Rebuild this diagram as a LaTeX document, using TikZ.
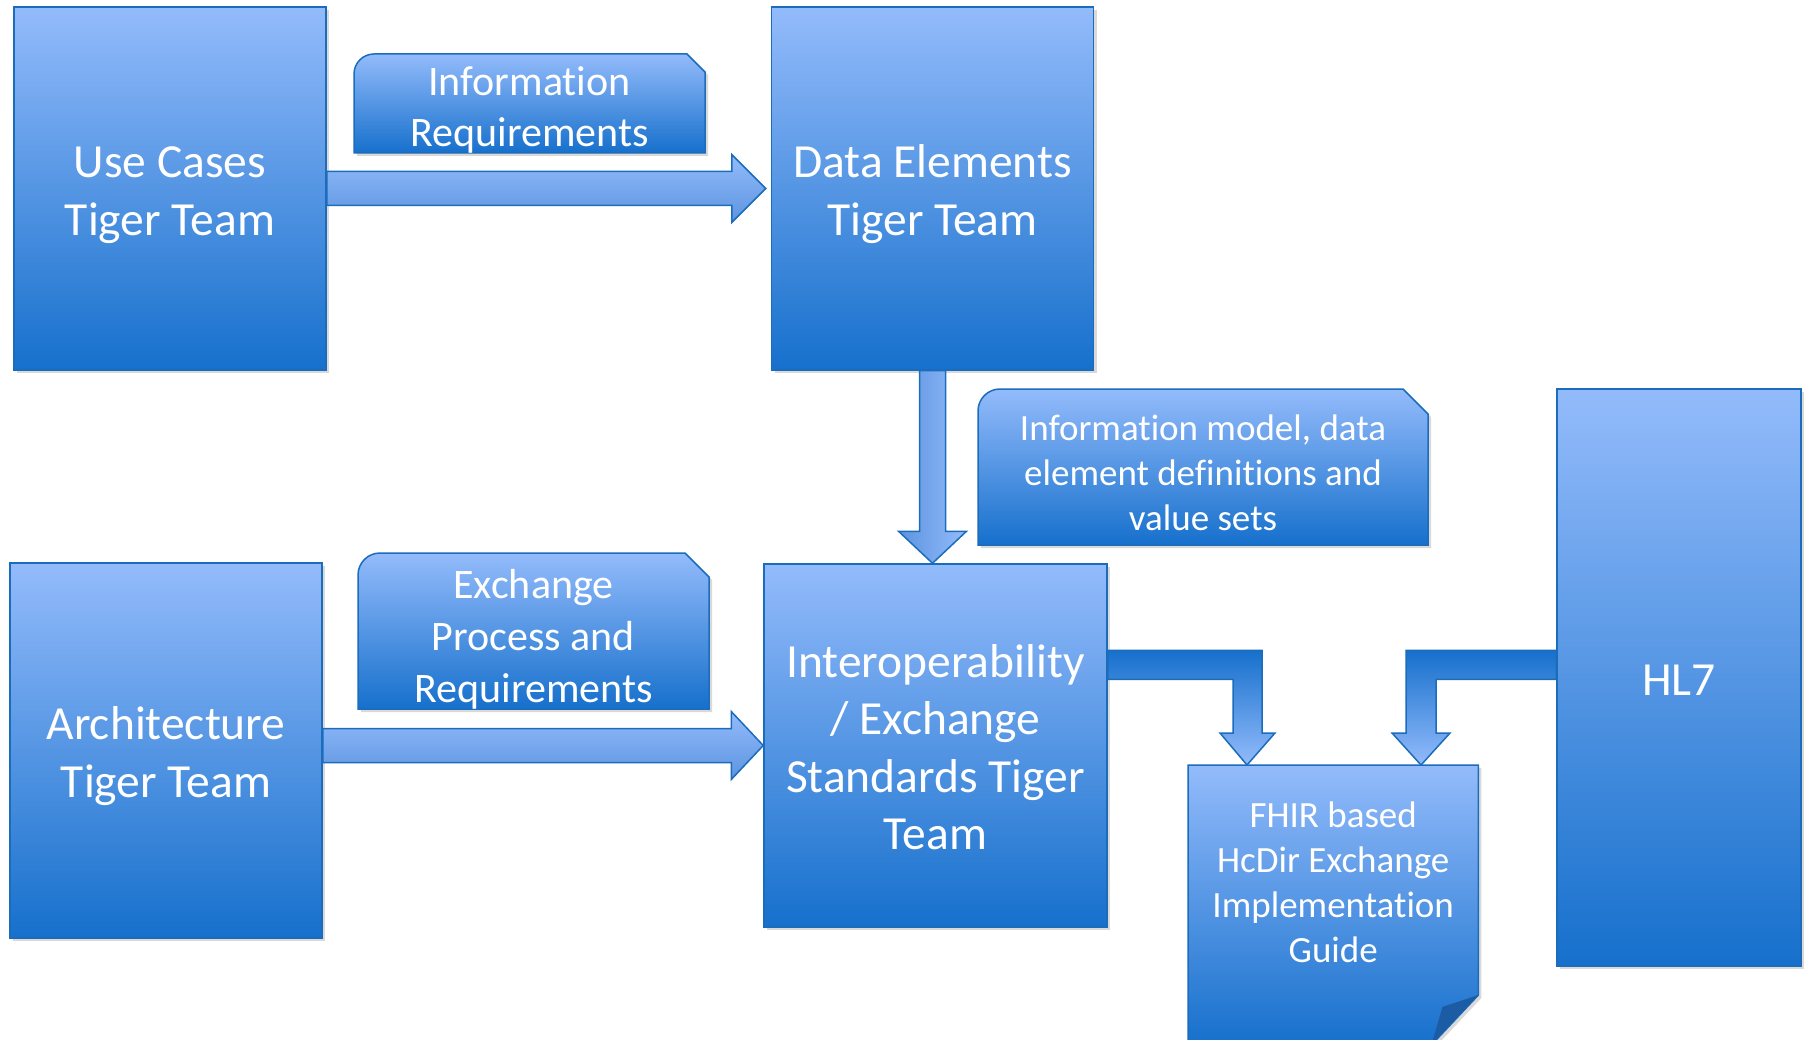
\documentclass[tikz,border=0pt]{standalone}
\usepackage{fontspec}
\setmainfont{Carlito}[Ligatures={NoCommon,NoDiscretionary,NoContextual}]
\usetikzlibrary{positioning, calc, shadows}
\definecolor{boxtop}{RGB}{147,187,251}
\definecolor{boxbot}{RGB}{22,112,204}
\definecolor{boxline}{RGB}{28,108,188}
\definecolor{arrowmid}{RGB}{92,148,224}
\definecolor{foldcol}{RGB}{27,92,165}
\newcommand{\teamtext}[1]{\raisebox{0pt}[\dimexpr\height+13pt\relax]{\begin{tabular}{@{}c@{}}#1\end{tabular}}}
\tikzstyle{Team} = [draw=boxline, line width=1.5pt, top color=boxtop,
bottom color=boxbot, text=white, inner sep=0pt,
font=\fontsize{47.5}{57.5}\selectfont,
drop shadow={opacity=0.3, shadow xshift=3pt, shadow yshift=-3pt}]
\tikzstyle{Note} = [draw=boxline, line width=1.5pt, top color=boxtop,
bottom color=boxbot,
drop shadow={opacity=0.3, shadow xshift=3pt, shadow yshift=-3pt}]
\tikzstyle{NoteText} = [text=white, align=center, inner sep=0pt]
\tikzstyle{HArrow} = [draw=boxline, line width=1.5pt, top color=boxtop,
bottom color=arrowmid]
\tikzstyle{VArrow} = [draw=boxline, line width=1.5pt, left color=arrowmid,
right color=boxtop]
\tikzstyle{ElbowArrow} = [draw=boxline, line width=1.5pt, top color=boxbot,
bottom color=boxtop]

\begin{document}
\begin{tikzpicture}[x=1pt, y=-1pt]
    \clip (0,0) rectangle (1804,1040);

    % teams
    \node [Team, minimum width=312pt, minimum height=363pt] (usecases) at (170,188.5) {\teamtext{Use Cases\\Tiger Team}};
    \node [Team, minimum width=322pt, minimum height=363pt, right=444pt of usecases] (dataelem) {\teamtext{Data Elements\\Tiger Team}};
    \node [Team, minimum width=312pt, minimum height=375pt] (arch) at (166,750.5) {\teamtext{Architecture\\Tiger Team}};
    \node [Team, minimum width=343pt, minimum height=363pt] (interop) at (935.5,745.5) {\teamtext{Interoperability\\/ Exchange\\Standards Tiger\\Team}};
    \node [Team, minimum width=244pt, minimum height=577pt] (hl7) at (1679,677.5) {\teamtext{HL7}};

    % implementation guide (folded page)
    \node [anchor=north west, minimum width=290pt, minimum height=280pt, inner sep=0pt] (fhirdoc) at (1188,765) {};
    \path[Note] (fhirdoc.north west) -- (fhirdoc.north east) -- ($(fhirdoc.north east)+(0,230)$)
        -- ($(fhirdoc.north east)+(-47,280)$) -- (fhirdoc.south west) -- cycle;
    \fill[foldcol] ($(fhirdoc.north east)+(0,230)$) -- ($(fhirdoc.north east)+(-36,242)$)
        -- ($(fhirdoc.north east)+(-47,280)$) -- cycle;
    \node [NoteText, font=\fontsize{37}{45}\selectfont] (fhir) at ($(fhirdoc.north)+(0,117)$) {FHIR based\\HcDir Exchange\\Implementation\\Guide};

    % labels
    \path[Note] (354,153) -- (354,74) arc[start angle=180, end angle=90, radius=20pt] -- (687,54) -- (705,72) -- (705,153) -- cycle;
    \node [NoteText, font=\fontsize{42}{51}\selectfont] (inforeq) at (529.5,110) {Information\\Requirements};
    \path[Note] (358,709) -- (358,575) arc[start angle=180, end angle=90, radius=22pt] -- (685,553) -- (709,577) -- (709,709) -- cycle;
    \node [NoteText, font=\fontsize{42}{52}\selectfont] (exch) at (533.5,639) {Exchange\\Process and\\Requirements};
    \path[Note] (978,545) -- (978,411) arc[start angle=180, end angle=90, radius=22pt] -- (1403,389) -- (1428,414) -- (1428,545) -- cycle;
    \node [NoteText, font=\fontsize{37}{45}\selectfont] (infomodel) at (1203,473) {Information model, data\\element definitions and\\value sets};

    % block arrows
    \path[HArrow] ($(usecases.east)+(0,-17)$) -- ($(dataelem.west)+(-39,-17)$) -- ++(0,-17)
        -- ($(dataelem.west)+(-5,0)$) -- ($(dataelem.west)+(-39,34)$) -- ++(0,-17)
        -- ($(usecases.east)+(0,17)$) -- cycle;
    \path[HArrow] ($(arch.east|-interop.west)+(0,-17)$) -- ($(interop.west)+(-32,-17)$) -- ++(0,-17)
        -- ($(interop.west)+(0,0)$) -- ($(interop.west)+(-32,34)$) -- ++(0,-17)
        -- ($(arch.east|-interop.west)+(0,17)$) -- cycle;
    \path[VArrow] ($(dataelem.south)+(-13,0)$) -- ($(dataelem.south|-interop.north)+(-13,-32)$) -- ++(-21,0)
        -- (dataelem.south|-interop.north) -- ($(dataelem.south|-interop.north)+(34,-32)$) -- ++(-21,0)
        -- ($(dataelem.south)+(13,0)$) -- cycle;

    \coordinate (tipL) at ($(fhirdoc.north west)+(59,0)$);
    \coordinate (tipR) at ($(fhirdoc.north west)+(233,0)$);
    \path[ElbowArrow] ($(interop.north east)+(0,87)$) -| ($(tipL)+(15,-32)$) -- ++(13,0) -- (tipL)
        -- ($(tipL)+(-27,-32)$) -- ++(13,0) |- ($(interop.north east)+(0,116)$) -- cycle;
    \path[ElbowArrow] ($(hl7.north west)+(0,262)$) -| ($(tipR)+(-15,-32)$) -- ++(-14,0) -- (tipR)
        -- ($(tipR)+(29,-32)$) -- ++(-14,0) |- ($(hl7.north west)+(0,291)$) -- cycle;
\end{tikzpicture}
\end{document}
